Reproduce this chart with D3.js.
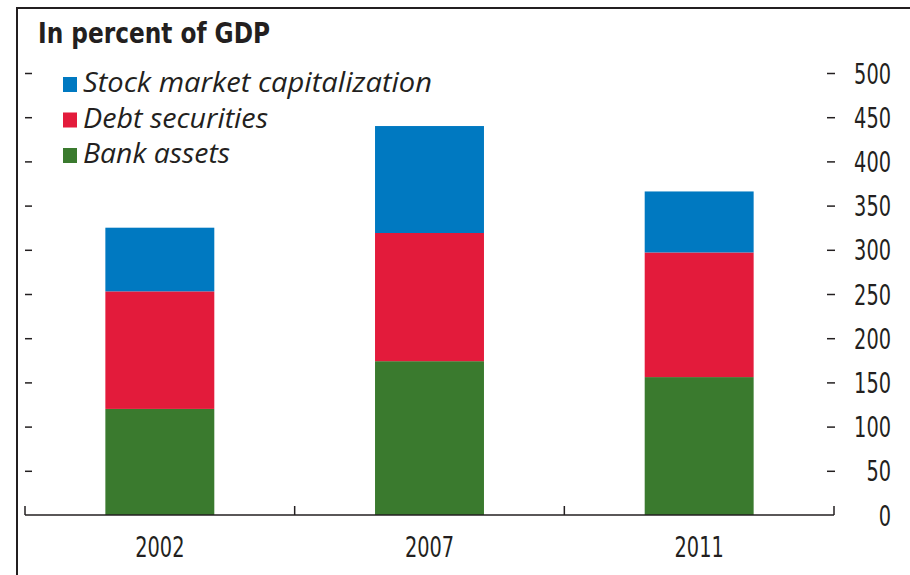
<!DOCTYPE html>
<html>
<head>
<meta charset="utf-8">
<script src="https://cdn.jsdelivr.net/npm/d3@7"></script>
<style>
  body { margin: 0; background: #fff; }
  svg { display: block; }
  text { fill: #231f20; }
</style>
</head>
<body>
<svg id="chart" width="910" height="575"></svg>
<script>
const years = ['2002', '2007', '2011'];
const bankAssets = [120, 174, 156];
const debtSecurities = [133, 145, 141];
const stockMarketCap = [72, 121, 69];
const seriesNames = ['Bank assets', 'Debt securities', 'Stock market capitalization'];
const seriesColors = ['#3a7a2e', '#e31b3b', '#0079c1'];
const legendOrder = ['Stock market capitalization', 'Debt securities', 'Bank assets'];
const yTicks = [0, 50, 100, 150, 200, 250, 300, 350, 400, 450, 500];

const NARROW = "'Liberation Sans Narrow', 'DejaVu Sans Condensed', sans-serif";
const DIGIT_W = 12.3; // condensed digit width in the original
const svg = d3.select('#chart');

// squeeze a text to a given width (the original face is condensed)
function fitWidth(sel, w) {
    sel.attr('textLength', w).attr('lengthAdjust', 'spacingAndGlyphs');
}

// rows for the stack
const rows = years.map((yr, i) => ({
    year: yr,
    'Bank assets': bankAssets[i],
    'Debt securities': debtSecurities[i],
    'Stock market capitalization': stockMarketCap[i]
}));
const stacked = d3.stack().keys(seriesNames)(rows);
const color = d3.scaleOrdinal().domain(seriesNames).range(seriesColors);

const x = d3.scaleBand()
    .domain(years)
    .range([25, 834])
    .paddingInner(0.596)
    .paddingOuter(0.298);
const y = d3.scaleLinear().domain([0, 500]).range([515, 73]);

// frame
svg.append('path')
    .attr('d', 'M17,575 V8 H910')
    .attr('fill', 'none')
    .attr('stroke', '#231f20')
    .attr('stroke-width', 2);

// title
svg.append('text')
    .attr('x', 38)
    .attr('y', 43)
    .attr('font-family', NARROW)
    .attr('font-weight', 'bold')
    .attr('font-size', 28)
    .text('In percent of GDP')
    .call(fitWidth, 232);

// bars
svg.append('g')
    .selectAll('g')
    .data(stacked)
    .enter()
    .append('g')
    .attr('fill', d => color(d.key))
    .selectAll('rect')
    .data(d => d)
    .enter()
    .append('rect')
    .attr('x', d => x(d.data.year))
    .attr('width', x.bandwidth())
    .attr('y', d => y(d[1]))
    .attr('height', d => y(d[0]) - y(d[1]));

// left tick dashes (no labels)
const leftAxis = svg.append('g')
    .attr('transform', 'translate(25,0)')
    .call(d3.axisRight(y).tickValues(yTicks.filter(v => v > 0)).tickSize(7).tickFormat(''));
leftAxis.select('.domain').remove();
leftAxis.selectAll('line').attr('stroke', '#231f20').attr('stroke-width', 1.5);

// right axis
const rightAxis = svg.append('g')
    .attr('transform', 'translate(827,0)')
    .call(d3.axisRight(y).tickValues(yTicks).tickSize(8).tickPadding(0));
rightAxis.select('.domain').remove();
rightAxis.selectAll('line')
    .attr('stroke', '#231f20')
    .attr('stroke-width', 1.5)
    .filter(d => d === 0).remove();
rightAxis.selectAll('text')
    .attr('x', 64)
    .attr('dy', '0.36em')
    .attr('text-anchor', 'end')
    .attr('font-family', NARROW)
    .attr('font-size', 28)
    .attr('fill', '#231f20')
    .each(function(d) { fitWidth(d3.select(this), String(d).length * DIGIT_W); });

// x axis: baseline with upward ticks at band boundaries
const step = x.step();
const bounds = [0, 1, 2, 3].map(i => x.range()[0] + i * step);
svg.append('line')
    .attr('x1', x.range()[0]).attr('x2', x.range()[1])
    .attr('y1', y(0)).attr('y2', y(0))
    .attr('stroke', '#231f20').attr('stroke-width', 1.5);
svg.append('g')
    .selectAll('line')
    .data(bounds)
    .enter()
    .append('line')
    .attr('x1', d => d).attr('x2', d => d)
    .attr('y1', y(0) - 9).attr('y2', y(0))
    .attr('stroke', '#231f20').attr('stroke-width', 1.5);

const bottomAxis = svg.append('g')
    .attr('transform', `translate(0,${y(0)})`)
    .call(d3.axisBottom(x).tickSize(0).tickPadding(0));
bottomAxis.select('.domain').remove();
bottomAxis.selectAll('text')
    .attr('dy', null)
    .attr('y', 42)
    .attr('font-family', NARROW)
    .attr('font-size', 28)
    .attr('fill', '#231f20')
    .each(function(d) { fitWidth(d3.select(this), d.length * DIGIT_W); });

// legend
const legendWidths = [349, 185, 147];
const legend = svg.append('g')
    .selectAll('g')
    .data(legendOrder)
    .enter()
    .append('g')
    .attr('transform', (d, i) => `translate(63,${92 + i * 35.5})`);
legend.append('rect')
    .attr('x', 0).attr('y', -15)
    .attr('width', 14).attr('height', 15)
    .attr('fill', d => color(d));
legend.append('text')
    .attr('x', 20)
    .attr('y', 0)
    .attr('font-family', "'Open Sans', sans-serif")
    .attr('font-style', 'italic')
    .attr('font-size', 27)
    .text(d => d)
    .each(function(d, i) { fitWidth(d3.select(this), legendWidths[i]); });
</script>
</body>
</html>
